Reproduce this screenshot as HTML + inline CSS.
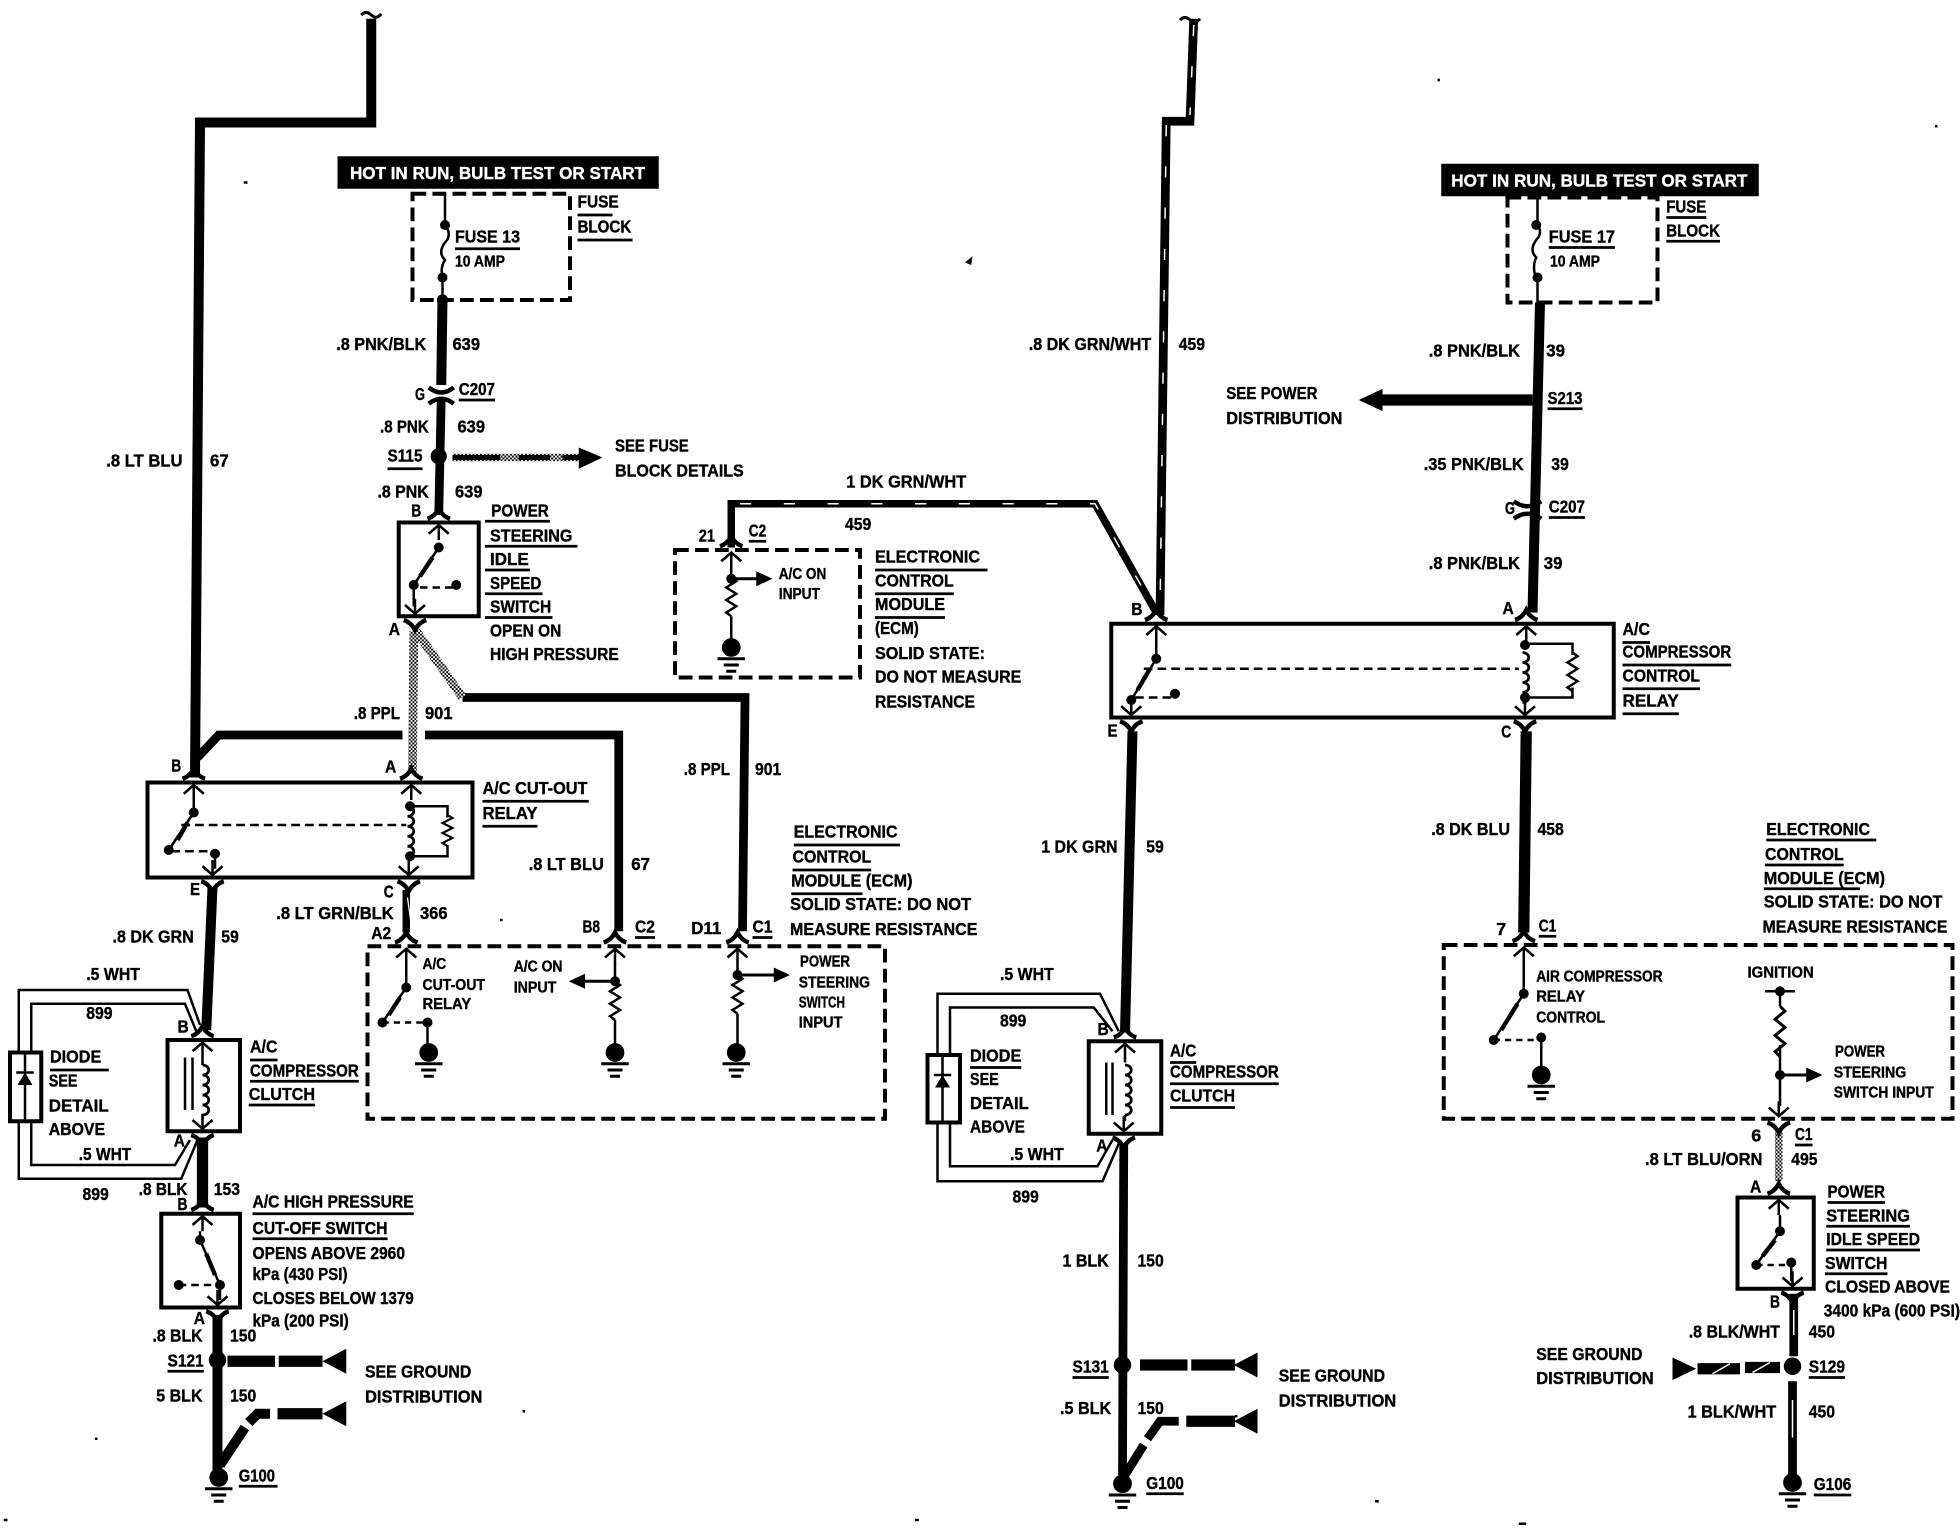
<!DOCTYPE html>
<html><head><meta charset="utf-8"><title>Wiring diagram</title>
<style>
html,body{margin:0;padding:0;background:#fff}
svg{display:block}
text{font-family:"Liberation Sans",sans-serif;font-weight:bold;font-size:14px;fill:#000;stroke:#000;stroke-width:.3}
.s{font-size:12.5px}
.h{font-size:14px;fill:#fff;stroke:#fff}
.w{fill:none;stroke:#000;stroke-linejoin:miter}
.t{fill:none;stroke:#000;stroke-width:2}
</style></head><body>
<svg xmlns="http://www.w3.org/2000/svg" width="1960" height="1536" viewBox="0 0 1568 1228.8">
<defs>
<pattern id="d" width="3" height="3" patternUnits="userSpaceOnUse"><rect width="3" height="3" fill="#fff"/><rect width="1.5" height="1.5" fill="#000"/><rect x="1.5" y="1.5" width="1.5" height="1.5" fill="#000"/></pattern>
<g id="tt"><path d="M-9,-3 Q-3,-5 0,-11 Q3,-5 9,-3" fill="none" stroke="#000" stroke-width="3.5"/><path d="M-8,9 L0,2 L8,9 M0,2 V14" fill="none" stroke="#000" stroke-width="2"/></g>
<g id="gnd"><circle r="7.5"/><path d="M-11,9 H11 M-6,14 H6 M-4,19 H4" stroke="#000" stroke-width="2.4"/></g>
<path id="zz" d="M0,0 l4,3 l-8,5 l8,5 l-8,5 l8,5 l-8,5 l4,3" fill="none" stroke="#000" stroke-width="2"/>
<path id="coil" d="M0,0 a5,4 0 0 1 0,8 a5,4 0 0 1 0,8 a5,4 0 0 1 0,8 a5,4 0 0 1 0,8 a5,4 0 0 1 0,8" fill="none" stroke="#000" stroke-width="2.2"/>
<path id="tl" d="M-8,-2 Q-4,-6 0,-2 Q4,2 8,-3" fill="none" stroke="#000" stroke-width="2.4"/>
<path id="hl" d="M0,0 L19,-10 V10 Z"/>
</defs>

<!-- heavy wires -->
<path class="w" stroke-width="8" d="M297,15 V98 H160 L156,622"/>
<path class="w" stroke-width="7" d="M158,606 L175,588 H322 M340,588 H495 V745"/>
<path class="w" stroke-width="7" d="M370,558 H596 L594,745"/>
<path fill="none" stroke="url(#d)" stroke-width="7" d="M331,505 L330,618"/>
<path fill="none" stroke="url(#d)" stroke-width="7" d="M333,505 L370,558"/>
<path class="w" stroke-width="8" d="M354,238 L353,308"/>
<path class="w" stroke-width="7" d="M353,318 L351,412"/>
<path fill="none" stroke="url(#d)" stroke-width="6" d="M362,366 H465"/>
<path class="w" stroke-width="4" d="M362,366 H400 M415,366 H440 M450,366 H468"/>
<path d="M482,366 L463,358 V375 Z"/>
<path class="w" stroke-width="8" d="M170,710 L165,824"/>
<path class="w" stroke-width="6" d="M325,712 V746"/>
<path fill="none" stroke="#fff" stroke-width="1" d="M326,718 L329,740"/>
<path class="w" stroke-width="9" d="M162,910 V966"/>
<path class="w" stroke-width="8" d="M174,1052 V1180"/>
<path class="w" stroke-width="9" d="M182,1089 H220 M223,1089 H258"/>
<use href="#hl" transform="translate(258,1089)"/>
<path class="w" stroke-width="8" d="M176,1172 L196,1142 M199,1138 L206,1131 H216"/>
<path class="w" stroke-width="9" d="M222,1131 H258"/>
<use href="#hl" transform="translate(258,1131)"/>

<!-- centre wires -->
<path class="w" stroke-width="7" d="M955,15 L952,97 H933 L928,492"/>
<path fill="none" stroke="#fff" stroke-width="1.2" stroke-dasharray="9 24" d="M955,20 L952,92 M933,100 L928,492"/>
<path class="w" stroke-width="6" d="M585,438 V403 H876 L925,490"/>
<path fill="none" stroke="#fff" stroke-width="1.2" stroke-dasharray="9 26" d="M592,403 H876 L925,490"/>
<path class="w" stroke-width="8" d="M906,585 L900,826"/>
<path class="w" stroke-width="9" d="M1221,585 L1219,746"/>
<path class="w" stroke-width="7" d="M899,915 L898,1180"/>
<path class="w" stroke-width="9" d="M912,1092 H950 M953,1092 H988"/>
<use href="#hl" transform="translate(987,1092)"/>
<path class="w" stroke-width="7" d="M900,1180 L915,1156 M918,1151 L928,1137 H943"/>
<path class="w" stroke-width="9" d="M949,1137 H988"/>
<use href="#hl" transform="translate(987,1137)"/>

<!-- right wires -->
<path class="w" stroke-width="8" d="M1232,242 L1226,490"/>
<path class="w" stroke-width="9" d="M1226,320 H1105"/>
<path d="M1087,320 L1106,311 V329 Z"/>
<path fill="none" stroke="url(#d)" stroke-width="6" d="M1423,905 V945"/>
<path class="w" stroke-width="7" d="M1435,1035 V1085 M1434,1105 V1180"/>
<path fill="none" stroke="#fff" stroke-width="1.2" d="M1435,1048 V1068 M1434,1120 V1150"/>
<path class="w" stroke-width="9" d="M1424,1094 H1396 M1392,1095 H1358"/>
<path fill="none" stroke="#fff" stroke-width="1.2" d="M1370,1099 L1384,1091 M1402,1098 L1416,1090"/>
<path d="M1357,1095 L1338,1086 V1104 Z"/>

<!-- double white wires -->
<path class="t" d="M15,842 V792 H150 L160,820 M25,842 V803 H148 L157,825 M15,897 V943 H145 L158,912 M25,897 V932 H140 L152,912"/>
<path class="t" d="M750,844 V795 H880 L895,825 M760,844 V806 H875 L890,825 M750,898 V945 H882 L895,915 M760,898 V933 H878 L890,912"/>

<!-- boxes -->
<g fill="#fff" stroke="#000" stroke-width="3.2">
<rect x="319" y="418" width="64" height="75"/>
<rect x="118" y="626" width="260" height="76"/>
<rect x="134" y="832" width="58" height="73"/>
<rect x="8" y="842" width="25" height="55"/>
<rect x="129" y="971" width="63" height="75"/>
<rect x="889" y="499" width="402" height="75"/>
<rect x="871" y="833" width="58" height="74"/>
<rect x="742" y="844" width="26" height="54"/>
<rect x="1390" y="958" width="61" height="73"/>
</g>
<g fill="none" stroke="#000" stroke-width="3.2" stroke-dasharray="11 5">
<rect x="330" y="155" width="126" height="85"/>
<rect x="294" y="757" width="414" height="138"/>
<rect x="540" y="440" width="148" height="102"/>
<rect x="1206" y="158" width="120" height="84"/>
<rect x="1155" y="756" width="407" height="139"/>
</g>
<rect x="270" y="125" width="257" height="26"/>
<rect x="1153" y="131" width="254" height="26"/>

<!-- connectors -->
<use href="#tt" x="351" y="418"/>
<use href="#tt" x="155" y="626"/>
<use href="#tt" x="329" y="626"/>
<use href="#tt" x="325" y="757"/>
<use href="#tt" x="492" y="757"/>
<use href="#tt" x="590" y="757"/>
<use href="#tt" x="585" y="440"/>
<use href="#tt" x="925" y="499"/>
<use href="#tt" x="1221" y="499"/>
<use href="#tt" x="1219" y="756"/>
<use href="#tt" x="162" y="832"/>
<use href="#tt" x="900" y="833"/>
<use href="#tt" x="162" y="971"/>
<use href="#tt" x="1423" y="958"/>
<use href="#tt" transform="translate(332,493) scale(1,-1)"/>
<use href="#tt" transform="translate(170,702) scale(1,-1)"/>
<use href="#tt" transform="translate(327,702) scale(1,-1)"/>
<use href="#tt" transform="translate(162,905) scale(1,-1)"/>
<use href="#tt" transform="translate(174,1046) scale(1,-1)"/>
<use href="#tt" transform="translate(905,574) scale(1,-1)"/>
<use href="#tt" transform="translate(1220,574) scale(1,-1)"/>
<use href="#tt" transform="translate(899,907) scale(1,-1)"/>
<use href="#tt" transform="translate(1423,895) scale(1,-1)"/>
<use href="#tt" transform="translate(1434,1031) scale(1,-1)"/>
<path class="w" stroke-width="3.5" d="M343,310 Q353,318 363,310 M343,323 Q353,315 363,323 M1211,401 Q1222,409 1233,401 M1211,415 Q1222,407 1233,415"/>

<!-- top tildes -->
<use href="#tl" x="297" y="14"/>
<use href="#tl" x="952" y="18"/>

<!-- fuses -->
<path class="t" d="M356,155 V178 M356,180 q6,8 0,14 q-6,8 0,14 q-4,6 -2,14 M354,222 V240"/>
<circle cx="356" cy="180" r="4"/><circle cx="354" cy="222" r="4"/><circle cx="354" cy="240" r="4.5"/>
<path class="t" d="M1230,158 V178 M1229,178 q6,8 0,14 q-6,8 0,14 q-3,6 -1,14 M1230,222 V242"/>
<circle cx="1229" cy="180" r="4"/><circle cx="1230" cy="222" r="4"/>

<!-- splices -->
<circle cx="351" cy="365" r="6.5"/><circle cx="174" cy="1088" r="7"/><circle cx="898" cy="1092" r="7"/><circle cx="1434" cy="1093" r="7"/>

<!-- switch: PS idle -->
<path class="t" d="M351,438 L331,468 M331,468 V485"/>
<path class="t" stroke-dasharray="6 4" d="M336,470 H365"/>
<path class="w" stroke-width="3.5" d="M346,446 L336,461"/>
<circle cx="351" cy="438" r="4"/><circle cx="331" cy="468" r="4"/><circle cx="365" cy="468" r="4"/>

<!-- relay 1 -->
<path class="t" d="M155,635 V650 L135,680 M172,683 V695"/>
<path class="w" stroke-width="3.5" d="M150,658 L142,672"/>
<path class="t" stroke-dasharray="7 4" d="M145,660 H325 M137,681 H170"/>
<circle cx="155" cy="650" r="4"/><circle cx="135" cy="680" r="4"/><circle cx="172" cy="683" r="4"/>
<use href="#coil" x="326" y="645"/>
<path class="t" d="M328,645 H358 V654 M358,676 V685 H328"/>
<use href="#zz" transform="translate(358,652) scale(1,.8)"/>
<circle cx="328" cy="645" r="4"/><circle cx="328" cy="685" r="4"/>

<!-- relay 2 -->
<path class="t" d="M925,510 V527 L905,560 V570"/>
<path class="w" stroke-width="3.5" d="M920,535 L910,552"/>
<path class="t" stroke-dasharray="7 4" d="M915,535 H1215 M908,558 H940"/>
<circle cx="925" cy="527" r="4"/><circle cx="905" cy="560" r="4"/><circle cx="940" cy="555" r="4"/>
<use href="#coil" x="1218" y="522"/>
<path class="t" d="M1220,515 H1258 V524 M1258,550 V558 H1220"/>
<use href="#zz" transform="translate(1258,522)"/>
<circle cx="1220" cy="516" r="4"/><circle cx="1220" cy="558" r="4"/>

<!-- clutches -->
<path class="t" d="M162,846 V852 M162,892 V896 M148,846 V888 M154,846 V888 M900,846 V850 M900,892 V897 M885,850 V892 M890,850 V892"/>
<use href="#coil" x="162" y="852"/>
<use href="#coil" x="900" y="852"/>
<path d="M20,858 L26,868 H14 Z"/><path class="t" d="M20,842 V897 M13,858 H27"/>
<path d="M754,860 L760,870 H748 Z"/><path class="t" d="M754,844 V898 M747,860 H761"/>

<!-- HP switch -->
<path class="t" d="M160,985 V992 L176,1028 V1040"/>
<path class="w" stroke-width="3.5" d="M165,1003 L172,1020"/>
<path class="t" stroke-dasharray="6 4" d="M143,1028 H175"/>
<circle cx="160" cy="992" r="4"/><circle cx="143" cy="1028" r="4"/><circle cx="176" cy="1028" r="4"/>

<!-- ECM 1 interior -->
<path class="t" d="M325,770 V790 L306,818 M342,818 V842"/>
<path class="w" stroke-width="3.5" d="M320,798 L311,812"/>
<path class="t" stroke-dasharray="5 4" d="M306,818 H342"/>
<circle cx="325" cy="790" r="4"/><circle cx="306" cy="818" r="4"/><circle cx="342" cy="818" r="4"/>
<use href="#gnd" x="343" y="842"/>
<path class="t" d="M492,770 V785 M492,816 V842 M590,770 V780 M590,811 V842"/>
<use href="#zz" x="492" y="785"/><use href="#zz" x="590" y="780"/>
<circle cx="492" cy="785" r="4"/><circle cx="590" cy="780" r="4"/>
<path class="w" stroke-width="2.4" d="M492,785 H465 M590,780 H622"/>
<path d="M455,785 L468,779 V791 Z"/><path d="M632,780 L619,774 V786 Z"/>
<use href="#gnd" x="492" y="842"/><use href="#gnd" x="589" y="842"/>

<!-- ECM top interior -->
<path class="t" d="M585,453 V462 M585,493 V512"/>
<use href="#zz" x="585" y="462"/>
<circle cx="585" cy="463" r="4"/>
<path class="w" stroke-width="2.4" d="M585,463 H608"/><path d="M618,463 L605,457 V469 Z"/>
<use href="#gnd" x="585" y="518"/>

<!-- ECM right interior -->
<path class="t" d="M1219,768 V795 L1195,832 M1233,830 V858"/>
<path class="w" stroke-width="3.5" d="M1214,803 L1201,824"/>
<path class="t" stroke-dasharray="5 4" d="M1195,832 H1233"/>
<circle cx="1219" cy="795" r="4"/><circle cx="1195" cy="832" r="4"/><circle cx="1233" cy="830" r="4"/>
<use href="#gnd" x="1233" y="860"/>
<path class="t" d="M1412,793 H1436 M1424,793 V805 M1424,836 V885"/>
<circle cx="1424" cy="793" r="4"/><circle cx="1424" cy="860" r="4"/>
<use href="#zz" transform="translate(1424,805) scale(1,1.3)"/>
<path class="w" stroke-width="2.4" d="M1424,860 H1448"/><path d="M1458,860 L1445,854 V866 Z"/>

<!-- PS switch right -->
<path class="t" d="M1424,972 V985 L1405,1012 M1433,1010 V1025"/>
<path class="w" stroke-width="3.5" d="M1420,992 L1410,1005"/>
<path class="t" stroke-dasharray="5 4" d="M1405,1012 H1433"/>
<circle cx="1424" cy="985" r="4"/><circle cx="1405" cy="1012" r="4"/><circle cx="1433" cy="1010" r="4"/>

<!-- grounds -->
<use href="#gnd" x="175" y="1182"/><use href="#gnd" x="898" y="1187"/><use href="#gnd" x="1434" y="1186"/>

<!-- specks -->
<path d="M772,210 l6,-5 l-1,7 z M195,145 h3 v2 h-3 z M1150,63 h2 v2 h-2 z M1548,100 h2 v2 h-2 z M1100,1200 h3 v2 h-3 z M1215,1218 h6 v2 h-6 z M400,735 h2 v2 h-2 z M418,1128 h2 v2 h-2 z M76,1150 h2 v2 h-2 z M3,1215 h3 v2 h-3 z M732,1215 h3 v2 h-3 z M988,1132 h2 v2 h-2 z"/>

<!-- underlines -->
<path fill="none" stroke="#000" stroke-width="2.2" d="M462,172H490M462,192H506M364,199H416M367,320H396M310,375H338M388,417H440M388,437H462M388,456H424M388,475H434M388,494H442M386,641H471M386,661H430M508,750H524M602,750H618M635,676H720M634,696H697M633,715H690M599,433H613M700,456H790M700,475H763M700,494H756M200,848H222M200,865H287M199,884H252M40,856H87M202,971H331M202,991H310M134,1097H163M191,1189H222M1298,514H1320M1298,532H1385M1298,551H1360M1298,571H1343M1333,174H1365M1333,193H1376M1239,198H1292M1238,327H1266M1239,414H1268M1231,749H1245M936,850H957M936,867H1023M936,886H988M776,854H817M858,1102H887M917,1195H947M1413,672H1501M1412,692H1475M1411,711H1488M1436,916H1450M1462,962H1508M1461,981H1528M1461,1000H1536M1460,1019H1510M1447,1102H1476M1451,1196H1481"/>

<!-- labels -->
<text class="h" x="280" y="143" textLength="236" lengthAdjust="spacingAndGlyphs">HOT IN RUN, BULB TEST OR START</text>
<text class="h" x="1161" y="149" textLength="237" lengthAdjust="spacingAndGlyphs">HOT IN RUN, BULB TEST OR START</text>
<text x="462" y="166" textLength="33" lengthAdjust="spacingAndGlyphs">FUSE</text>
<text x="462" y="186" textLength="43" lengthAdjust="spacingAndGlyphs">BLOCK</text>
<text x="364" y="194" textLength="52" lengthAdjust="spacingAndGlyphs">FUSE 13</text>
<text class="s" x="364" y="213" textLength="40" lengthAdjust="spacingAndGlyphs">10 AMP</text>
<text x="269" y="280" textLength="72" lengthAdjust="spacingAndGlyphs">.8 PNK/BLK</text>
<text x="362" y="280" textLength="22" lengthAdjust="spacingAndGlyphs">639</text>
<text x="332" y="320" textLength="8" lengthAdjust="spacingAndGlyphs">G</text>
<text x="367" y="316" textLength="29" lengthAdjust="spacingAndGlyphs">C207</text>
<text x="304" y="346" textLength="39" lengthAdjust="spacingAndGlyphs">.8 PNK</text>
<text x="366" y="346" textLength="22" lengthAdjust="spacingAndGlyphs">639</text>
<text x="310" y="369" textLength="28" lengthAdjust="spacingAndGlyphs">S115</text>
<text x="492" y="361" textLength="59" lengthAdjust="spacingAndGlyphs">SEE FUSE</text>
<text x="492" y="381" textLength="103" lengthAdjust="spacingAndGlyphs">BLOCK DETAILS</text>
<text x="302" y="398" textLength="41" lengthAdjust="spacingAndGlyphs">.8 PNK</text>
<text x="364" y="398" textLength="22" lengthAdjust="spacingAndGlyphs">639</text>
<text x="329" y="413" textLength="8" lengthAdjust="spacingAndGlyphs">B</text>
<text x="393" y="413" textLength="46" lengthAdjust="spacingAndGlyphs">POWER</text>
<text x="392" y="433" textLength="66" lengthAdjust="spacingAndGlyphs">STEERING</text>
<text x="392" y="452" textLength="31" lengthAdjust="spacingAndGlyphs">IDLE</text>
<text x="392" y="471" textLength="41" lengthAdjust="spacingAndGlyphs">SPEED</text>
<text x="392" y="490" textLength="49" lengthAdjust="spacingAndGlyphs">SWITCH</text>
<text x="392" y="509" textLength="57" lengthAdjust="spacingAndGlyphs">OPEN ON</text>
<text x="392" y="528" textLength="103" lengthAdjust="spacingAndGlyphs">HIGH PRESSURE</text>
<text x="311" y="508" textLength="9" lengthAdjust="spacingAndGlyphs">A</text>
<text x="283" y="575" textLength="37" lengthAdjust="spacingAndGlyphs">.8 PPL</text>
<text x="340" y="575" textLength="22" lengthAdjust="spacingAndGlyphs">901</text>
<text x="85" y="373" textLength="61" lengthAdjust="spacingAndGlyphs">.8 LT BLU</text>
<text x="168" y="373" textLength="15" lengthAdjust="spacingAndGlyphs">67</text>
<text x="137" y="617" textLength="8" lengthAdjust="spacingAndGlyphs">B</text>
<text x="308" y="618" textLength="9" lengthAdjust="spacingAndGlyphs">A</text>
<text x="386" y="635" textLength="84" lengthAdjust="spacingAndGlyphs">A/C CUT-OUT</text>
<text x="386" y="655" textLength="44" lengthAdjust="spacingAndGlyphs">RELAY</text>
<text x="547" y="620" textLength="37" lengthAdjust="spacingAndGlyphs">.8 PPL</text>
<text x="604" y="620" textLength="21" lengthAdjust="spacingAndGlyphs">901</text>
<text x="423" y="696" textLength="60" lengthAdjust="spacingAndGlyphs">.8 LT BLU</text>
<text x="505" y="696" textLength="15" lengthAdjust="spacingAndGlyphs">67</text>
<text x="152" y="716" textLength="8" lengthAdjust="spacingAndGlyphs">E</text>
<text x="307" y="718" textLength="8" lengthAdjust="spacingAndGlyphs">C</text>
<text x="90" y="754" textLength="65" lengthAdjust="spacingAndGlyphs">.8 DK GRN</text>
<text x="177" y="754" textLength="14" lengthAdjust="spacingAndGlyphs">59</text>
<text x="221" y="735" textLength="94" lengthAdjust="spacingAndGlyphs">.8 LT GRN/BLK</text>
<text x="336" y="735" textLength="22" lengthAdjust="spacingAndGlyphs">366</text>
<text x="297" y="751" textLength="16" lengthAdjust="spacingAndGlyphs">A2</text>
<text x="466" y="746" textLength="14" lengthAdjust="spacingAndGlyphs">B8</text>
<text x="508" y="746" textLength="16" lengthAdjust="spacingAndGlyphs">C2</text>
<text x="553" y="747" textLength="24" lengthAdjust="spacingAndGlyphs">D11</text>
<text x="602" y="746" textLength="16" lengthAdjust="spacingAndGlyphs">C1</text>
<text x="635" y="670" textLength="83" lengthAdjust="spacingAndGlyphs">ELECTRONIC</text>
<text x="634" y="690" textLength="63" lengthAdjust="spacingAndGlyphs">CONTROL</text>
<text x="633" y="709" textLength="97" lengthAdjust="spacingAndGlyphs">MODULE (ECM)</text>
<text x="632" y="728" textLength="145" lengthAdjust="spacingAndGlyphs">SOLID STATE: DO NOT</text>
<text x="632" y="748" textLength="150" lengthAdjust="spacingAndGlyphs">MEASURE RESISTANCE</text>
<text class="s" x="338" y="775" textLength="19" lengthAdjust="spacingAndGlyphs">A/C</text>
<text class="s" x="338" y="792" textLength="50" lengthAdjust="spacingAndGlyphs">CUT-OUT</text>
<text class="s" x="338" y="807" textLength="39" lengthAdjust="spacingAndGlyphs">RELAY</text>
<text class="s" x="411" y="777" textLength="39" lengthAdjust="spacingAndGlyphs">A/C ON</text>
<text class="s" x="411" y="794" textLength="34" lengthAdjust="spacingAndGlyphs">INPUT</text>
<text class="s" x="640" y="773" textLength="40" lengthAdjust="spacingAndGlyphs">POWER</text>
<text class="s" x="639" y="790" textLength="57" lengthAdjust="spacingAndGlyphs">STEERING</text>
<text class="s" x="639" y="806" textLength="37" lengthAdjust="spacingAndGlyphs">SWITCH</text>
<text class="s" x="639" y="822" textLength="35" lengthAdjust="spacingAndGlyphs">INPUT</text>
<text x="200" y="842" textLength="22" lengthAdjust="spacingAndGlyphs">A/C</text>
<text x="200" y="861" textLength="87" lengthAdjust="spacingAndGlyphs">COMPRESSOR</text>
<text x="199" y="880" textLength="53" lengthAdjust="spacingAndGlyphs">CLUTCH</text>
<text x="40" y="850" textLength="41" lengthAdjust="spacingAndGlyphs">DIODE</text>
<text x="39" y="869" textLength="23" lengthAdjust="spacingAndGlyphs">SEE</text>
<text x="39" y="889" textLength="48" lengthAdjust="spacingAndGlyphs">DETAIL</text>
<text x="39" y="908" textLength="45" lengthAdjust="spacingAndGlyphs">ABOVE</text>
<text x="69" y="784" textLength="43" lengthAdjust="spacingAndGlyphs">.5 WHT</text>
<text x="69" y="815" textLength="21" lengthAdjust="spacingAndGlyphs">899</text>
<text x="63" y="928" textLength="42" lengthAdjust="spacingAndGlyphs">.5 WHT</text>
<text x="66" y="960" textLength="21" lengthAdjust="spacingAndGlyphs">899</text>
<text x="142" y="826" textLength="9" lengthAdjust="spacingAndGlyphs">B</text>
<text x="139" y="917" textLength="9" lengthAdjust="spacingAndGlyphs">A</text>
<text x="111" y="956" textLength="39" lengthAdjust="spacingAndGlyphs">.8 BLK</text>
<text x="171" y="956" textLength="21" lengthAdjust="spacingAndGlyphs">153</text>
<text x="142" y="968" textLength="8" lengthAdjust="spacingAndGlyphs">B</text>
<text x="202" y="966" textLength="129" lengthAdjust="spacingAndGlyphs">A/C HIGH PRESSURE</text>
<text x="202" y="987" textLength="108" lengthAdjust="spacingAndGlyphs">CUT-OFF SWITCH</text>
<text x="202" y="1007" textLength="122" lengthAdjust="spacingAndGlyphs">OPENS ABOVE 2960</text>
<text x="202" y="1024" textLength="76" lengthAdjust="spacingAndGlyphs">kPa (430 PSI)</text>
<text x="202" y="1043" textLength="129" lengthAdjust="spacingAndGlyphs">CLOSES BELOW 1379</text>
<text x="202" y="1061" textLength="77" lengthAdjust="spacingAndGlyphs">kPa (200 PSI)</text>
<text x="155" y="1059" textLength="9" lengthAdjust="spacingAndGlyphs">A</text>
<text x="122" y="1073" textLength="40" lengthAdjust="spacingAndGlyphs">.8 BLK</text>
<text x="184" y="1073" textLength="21" lengthAdjust="spacingAndGlyphs">150</text>
<text x="134" y="1093" textLength="29" lengthAdjust="spacingAndGlyphs">S121</text>
<text x="125" y="1121" textLength="37" lengthAdjust="spacingAndGlyphs">5 BLK</text>
<text x="184" y="1121" textLength="21" lengthAdjust="spacingAndGlyphs">150</text>
<text x="292" y="1102" textLength="85" lengthAdjust="spacingAndGlyphs">SEE GROUND</text>
<text x="292" y="1122" textLength="94" lengthAdjust="spacingAndGlyphs">DISTRIBUTION</text>
<text x="191" y="1185" textLength="29" lengthAdjust="spacingAndGlyphs">G100</text>

<text x="823" y="280" textLength="98" lengthAdjust="spacingAndGlyphs">.8 DK GRN/WHT</text>
<text x="943" y="280" textLength="21" lengthAdjust="spacingAndGlyphs">459</text>
<text x="677" y="390" textLength="96" lengthAdjust="spacingAndGlyphs">1 DK GRN/WHT</text>
<text x="676" y="424" textLength="21" lengthAdjust="spacingAndGlyphs">459</text>
<text x="599" y="429" textLength="14" lengthAdjust="spacingAndGlyphs">C2</text>
<text x="559" y="433" textLength="13" lengthAdjust="spacingAndGlyphs">21</text>
<text class="s" x="623" y="463" textLength="38" lengthAdjust="spacingAndGlyphs">A/C ON</text>
<text class="s" x="623" y="479" textLength="33" lengthAdjust="spacingAndGlyphs">INPUT</text>
<text x="700" y="450" textLength="84" lengthAdjust="spacingAndGlyphs">ELECTRONIC</text>
<text x="700" y="469" textLength="63" lengthAdjust="spacingAndGlyphs">CONTROL</text>
<text x="700" y="488" textLength="56" lengthAdjust="spacingAndGlyphs">MODULE</text>
<text x="700" y="507" textLength="35" lengthAdjust="spacingAndGlyphs">(ECM)</text>
<text x="700" y="527" textLength="88" lengthAdjust="spacingAndGlyphs">SOLID STATE:</text>
<text x="700" y="546" textLength="117" lengthAdjust="spacingAndGlyphs">DO NOT MEASURE</text>
<text x="700" y="566" textLength="80" lengthAdjust="spacingAndGlyphs">RESISTANCE</text>
<text x="905" y="492" textLength="9" lengthAdjust="spacingAndGlyphs">B</text>
<text x="1202" y="491" textLength="9" lengthAdjust="spacingAndGlyphs">A</text>
<text x="886" y="589" textLength="8" lengthAdjust="spacingAndGlyphs">E</text>
<text x="1201" y="590" textLength="8" lengthAdjust="spacingAndGlyphs">C</text>
<text x="1298" y="508" textLength="22" lengthAdjust="spacingAndGlyphs">A/C</text>
<text x="1298" y="526" textLength="87" lengthAdjust="spacingAndGlyphs">COMPRESSOR</text>
<text x="1298" y="545" textLength="62" lengthAdjust="spacingAndGlyphs">CONTROL</text>
<text x="1298" y="565" textLength="45" lengthAdjust="spacingAndGlyphs">RELAY</text>
<text x="833" y="682" textLength="61" lengthAdjust="spacingAndGlyphs">1 DK GRN</text>
<text x="917" y="682" textLength="14" lengthAdjust="spacingAndGlyphs">59</text>
<text x="1145" y="668" textLength="63" lengthAdjust="spacingAndGlyphs">.8 DK BLU</text>
<text x="1230" y="668" textLength="21" lengthAdjust="spacingAndGlyphs">458</text>
<text x="1197" y="748" textLength="8" lengthAdjust="spacingAndGlyphs">7</text>
<text x="1231" y="745" textLength="14" lengthAdjust="spacingAndGlyphs">C1</text>
<text x="878" y="828" textLength="9" lengthAdjust="spacingAndGlyphs">B</text>
<text x="877" y="921" textLength="9" lengthAdjust="spacingAndGlyphs">A</text>
<text x="936" y="845" textLength="21" lengthAdjust="spacingAndGlyphs">A/C</text>
<text x="936" y="862" textLength="87" lengthAdjust="spacingAndGlyphs">COMPRESSOR</text>
<text x="936" y="881" textLength="52" lengthAdjust="spacingAndGlyphs">CLUTCH</text>
<text x="776" y="849" textLength="41" lengthAdjust="spacingAndGlyphs">DIODE</text>
<text x="776" y="868" textLength="23" lengthAdjust="spacingAndGlyphs">SEE</text>
<text x="776" y="887" textLength="47" lengthAdjust="spacingAndGlyphs">DETAIL</text>
<text x="776" y="906" textLength="44" lengthAdjust="spacingAndGlyphs">ABOVE</text>
<text x="800" y="784" textLength="43" lengthAdjust="spacingAndGlyphs">.5 WHT</text>
<text x="800" y="821" textLength="21" lengthAdjust="spacingAndGlyphs">899</text>
<text x="808" y="928" textLength="43" lengthAdjust="spacingAndGlyphs">.5 WHT</text>
<text x="810" y="962" textLength="21" lengthAdjust="spacingAndGlyphs">899</text>
<text x="850" y="1013" textLength="37" lengthAdjust="spacingAndGlyphs">1 BLK</text>
<text x="910" y="1013" textLength="21" lengthAdjust="spacingAndGlyphs">150</text>
<text x="858" y="1098" textLength="29" lengthAdjust="spacingAndGlyphs">S131</text>
<text x="848" y="1131" textLength="41" lengthAdjust="spacingAndGlyphs">.5 BLK</text>
<text x="910" y="1131" textLength="21" lengthAdjust="spacingAndGlyphs">150</text>
<text x="1023" y="1105" textLength="85" lengthAdjust="spacingAndGlyphs">SEE GROUND</text>
<text x="1023" y="1125" textLength="94" lengthAdjust="spacingAndGlyphs">DISTRIBUTION</text>
<text x="917" y="1191" textLength="30" lengthAdjust="spacingAndGlyphs">G100</text>

<text x="1333" y="170" textLength="32" lengthAdjust="spacingAndGlyphs">FUSE</text>
<text x="1333" y="189" textLength="43" lengthAdjust="spacingAndGlyphs">BLOCK</text>
<text x="1239" y="194" textLength="53" lengthAdjust="spacingAndGlyphs">FUSE 17</text>
<text class="s" x="1240" y="213" textLength="40" lengthAdjust="spacingAndGlyphs">10 AMP</text>
<text x="1143" y="285" textLength="73" lengthAdjust="spacingAndGlyphs">.8 PNK/BLK</text>
<text x="1237" y="285" textLength="15" lengthAdjust="spacingAndGlyphs">39</text>
<text x="1238" y="323" textLength="28" lengthAdjust="spacingAndGlyphs">S213</text>
<text x="981" y="319" textLength="73" lengthAdjust="spacingAndGlyphs">SEE POWER</text>
<text x="981" y="339" textLength="93" lengthAdjust="spacingAndGlyphs">DISTRIBUTION</text>
<text x="1139" y="376" textLength="80" lengthAdjust="spacingAndGlyphs">.35 PNK/BLK</text>
<text x="1241" y="376" textLength="14" lengthAdjust="spacingAndGlyphs">39</text>
<text x="1204" y="411" textLength="8" lengthAdjust="spacingAndGlyphs">G</text>
<text x="1239" y="410" textLength="29" lengthAdjust="spacingAndGlyphs">C207</text>
<text x="1143" y="455" textLength="73" lengthAdjust="spacingAndGlyphs">.8 PNK/BLK</text>
<text x="1235" y="455" textLength="15" lengthAdjust="spacingAndGlyphs">39</text>
<text x="1413" y="668" textLength="83" lengthAdjust="spacingAndGlyphs">ELECTRONIC</text>
<text x="1412" y="688" textLength="63" lengthAdjust="spacingAndGlyphs">CONTROL</text>
<text x="1411" y="707" textLength="97" lengthAdjust="spacingAndGlyphs">MODULE (ECM)</text>
<text x="1411" y="726" textLength="143" lengthAdjust="spacingAndGlyphs">SOLID STATE: DO NOT</text>
<text x="1410" y="746" textLength="148" lengthAdjust="spacingAndGlyphs">MEASURE RESISTANCE</text>
<text class="s" x="1229" y="785" textLength="101" lengthAdjust="spacingAndGlyphs">AIR COMPRESSOR</text>
<text class="s" x="1229" y="801" textLength="39" lengthAdjust="spacingAndGlyphs">RELAY</text>
<text class="s" x="1229" y="818" textLength="55" lengthAdjust="spacingAndGlyphs">CONTROL</text>
<text class="s" x="1398" y="782" textLength="53" lengthAdjust="spacingAndGlyphs">IGNITION</text>
<text class="s" x="1468" y="845" textLength="40" lengthAdjust="spacingAndGlyphs">POWER</text>
<text class="s" x="1467" y="862" textLength="58" lengthAdjust="spacingAndGlyphs">STEERING</text>
<text class="s" x="1467" y="878" textLength="80" lengthAdjust="spacingAndGlyphs">SWITCH INPUT</text>
<text x="1401" y="913" textLength="8" lengthAdjust="spacingAndGlyphs">6</text>
<text x="1436" y="912" textLength="14" lengthAdjust="spacingAndGlyphs">C1</text>
<text x="1316" y="932" textLength="94" lengthAdjust="spacingAndGlyphs">.8 LT BLU/ORN</text>
<text x="1433" y="932" textLength="21" lengthAdjust="spacingAndGlyphs">495</text>
<text x="1400" y="954" textLength="9" lengthAdjust="spacingAndGlyphs">A</text>
<text x="1462" y="958" textLength="46" lengthAdjust="spacingAndGlyphs">POWER</text>
<text x="1461" y="977" textLength="67" lengthAdjust="spacingAndGlyphs">STEERING</text>
<text x="1461" y="996" textLength="75" lengthAdjust="spacingAndGlyphs">IDLE SPEED</text>
<text x="1460" y="1015" textLength="50" lengthAdjust="spacingAndGlyphs">SWITCH</text>
<text x="1460" y="1034" textLength="100" lengthAdjust="spacingAndGlyphs">CLOSED ABOVE</text>
<text x="1459" y="1053" textLength="109" lengthAdjust="spacingAndGlyphs">3400 kPa (600 PSI)</text>
<text x="1416" y="1046" textLength="8" lengthAdjust="spacingAndGlyphs">B</text>
<text x="1351" y="1070" textLength="73" lengthAdjust="spacingAndGlyphs">.8 BLK/WHT</text>
<text x="1447" y="1070" textLength="21" lengthAdjust="spacingAndGlyphs">450</text>
<text x="1447" y="1098" textLength="29" lengthAdjust="spacingAndGlyphs">S129</text>
<text x="1229" y="1088" textLength="85" lengthAdjust="spacingAndGlyphs">SEE GROUND</text>
<text x="1229" y="1107" textLength="94" lengthAdjust="spacingAndGlyphs">DISTRIBUTION</text>
<text x="1350" y="1134" textLength="71" lengthAdjust="spacingAndGlyphs">1 BLK/WHT</text>
<text x="1447" y="1134" textLength="21" lengthAdjust="spacingAndGlyphs">450</text>
<text x="1451" y="1192" textLength="30" lengthAdjust="spacingAndGlyphs">G106</text>
</svg>
</body></html>
